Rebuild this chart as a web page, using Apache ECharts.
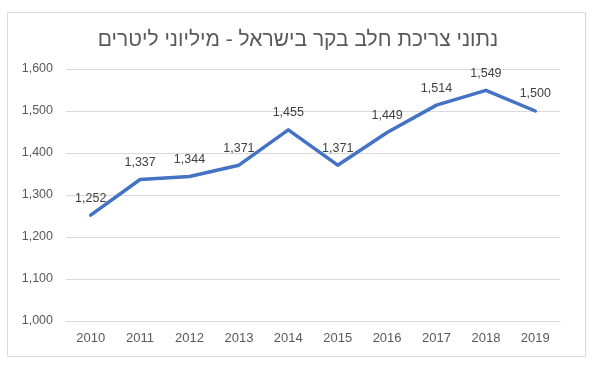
<!DOCTYPE html>
<html><head><meta charset="utf-8">
<script src="https://cdn.jsdelivr.net/npm/echarts@6/dist/echarts.min.js"></script>
<style>html,body{margin:0;padding:0;background:#fff}#c{width:596px;height:366px}</style>
</head><body><div id="c"></div>
<script>
const title = 'נתוני צריכת חלב בקר בישראל - מיליוני ליטרים';
const years = ['2010','2011','2012','2013','2014','2015','2016','2017','2018','2019'];
const consumption = [1252,1337,1344,1371,1455,1371,1449,1514,1549,1500];
const chart = echarts.init(document.getElementById('c'), null, {renderer:'canvas'});
const font = '"Liberation Sans", "DejaVu Sans", sans-serif';
chart.setOption({
  animation:false,
  graphic:[{type:'rect',shape:{x:7.5,y:12.5,width:578,height:344},style:{fill:'none',stroke:'#d9d9d9',lineWidth:1}}],
  title:{text:title,left:'center',top:25,textStyle:{fontFamily:font,fontSize:21,fontWeight:'normal',color:'#595959'}},
  grid:{left:66,right:36,top:69,bottom:45},
  xAxis:{type:'category',data:years,boundaryGap:true,
    axisLine:{show:true,lineStyle:{color:'#d9d9d9'}},axisTick:{show:false},
    axisLabel:{color:'#595959',fontFamily:font,fontSize:13,margin:11}},
  yAxis:{type:'value',min:1000,max:1600,interval:100,
    axisLine:{show:false},axisTick:{show:false},
    splitLine:{lineStyle:{color:'#d9d9d9'}},
    axisLabel:{color:'#595959',fontFamily:font,fontSize:12.5,margin:13,
      formatter:v=>v.toLocaleString('en-US')}},
  series:[{type:'line',data:consumption,symbol:'circle',symbolSize:1,showSymbol:true,
    itemStyle:{color:'rgba(0,0,0,0)'},
    lineStyle:{color:'#4472c4',width:3.5,cap:'round',join:'round'},
    label:{show:true,position:'top',distance:10,color:'#404040',fontFamily:font,fontSize:12.5,
      formatter:p=>p.value.toLocaleString('en-US')}}]
});
</script></body></html>
